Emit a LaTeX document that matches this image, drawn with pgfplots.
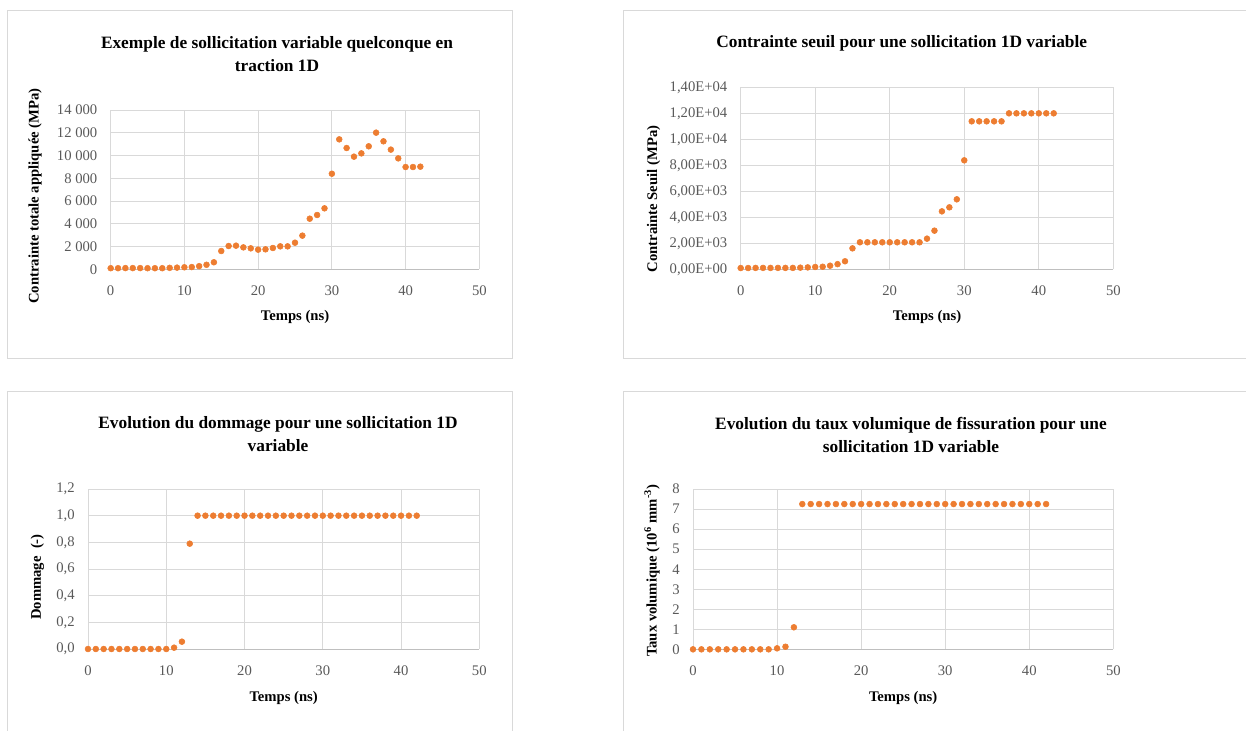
\documentclass[border=0pt]{standalone}
\usepackage{fontspec}
\setmainfont{Liberation Serif}
\usepackage{pgfplots}
\pgfplotsset{compat=1.18}
\definecolor{orng}{HTML}{ED7D31}
\definecolor{grd}{HTML}{D9D9D9}
\definecolor{axl}{HTML}{BFBFBF}
\definecolor{tck}{HTML}{595959}
\pgfplotsset{excel/.style={
  scale only axis, anchor=south west,
  xmin=0, xmax=50, xtick={0,10,...,50},
  grid=major, grid style={draw=grd, line width=0.75pt},
  axis x line*=bottom, axis y line*=left,
  x axis line style={draw=axl, line width=0.75pt, -},
  y axis line style={draw=none},
  tick style={draw=none},
  scaled ticks=false,
  ticklabel style={font=\fontsize{11}{12}\selectfont, text=tck},
  xticklabel style={yshift=-9pt},
  yticklabel style={xshift=-6.5pt},
  label style={font=\bfseries\fontsize{11}{13}\selectfont},
  /pgf/number format/assume math mode=true,
}, dots/.style={only marks, mark=*, mark size=2.2pt, draw=orng, fill=orng, mark options={draw=orng, fill=orng}}}
\begin{document}
\begin{tikzpicture}
\useasboundingbox (0,0) rectangle (934.5pt,-548.25pt);
% panel frames
\draw[grd, line width=0.75pt] (5.25pt,-8.25pt) rectangle (384pt,-268.5pt);
\draw[grd, line width=0.75pt] (467.25pt,-8.25pt) rectangle (940pt,-268.5pt);
\draw[grd, line width=0.75pt] (5.25pt,-293.25pt) rectangle (384pt,-560pt);
\draw[grd, line width=0.75pt] (467.25pt,-293.25pt) rectangle (940pt,-560pt);
% titles
\node[font=\bfseries\fontsize{13}{17.25}\selectfont, align=center] at (207.75pt,-40.9pt) {Exemple de sollicitation variable quelconque en\\traction 1D};
\node[font=\bfseries\fontsize{13}{17.25}\selectfont, align=center] at (676.3pt,-32.25pt) {Contrainte seuil pour une sollicitation 1D variable};
\node[font=\bfseries\fontsize{13}{17.25}\selectfont, align=center] at (208.5pt,-325.9pt) {Evolution du dommage pour une sollicitation 1D\\variable};
\node[font=\bfseries\fontsize{13}{17.25}\selectfont, align=center] at (683.25pt,-325.9pt) {Evolution du taux volumique de fissuration pour une\\sollicitation 1D variable};

% Chart 1
\begin{axis}[excel, at={(83pt,-202pt)}, width=276.5pt, height=119.5pt,
  ymin=0, ymax=14000, ytick={0,2000,...,14000},
  yticklabel style={/pgf/number format/fixed, /pgf/number format/1000 sep={\ }},
  xlabel={Temps (ns)}, ylabel={Contrainte totale appliquée (MPa)},
  xlabel style={at={(axis description cs:0.5,0)}, anchor=center, yshift=-35.8pt},
  ylabel style={at={(axis description cs:-0.205,0.46)}, anchor=center}]
\addplot[dots] coordinates {(0,100)(1,100)(2,110)(3,110)(4,110)(5,100)(6,100)(7,100)(8,130)(9,150)(10,180)(11,200)(12,280)(13,400)(14,620)(15,1610)(16,2050)(17,2080)(18,1930)(19,1845)(20,1730)(21,1760)(22,1875)(23,2020)(24,2020)(25,2340)(26,2960)(27,4450)(28,4775)(29,5360)(30,8400)(31,11420)(32,10660)(33,9900)(34,10190)(35,10810)(36,12010)(37,11250)(38,10520)(39,9750)(40,8990)(41,8990)(42,9020)};
\end{axis}

% Chart 2
\begin{axis}[excel, at={(555.5pt,-202pt)}, width=279.5pt, height=136.5pt,
  ymin=0, ymax=14000, ytick={0,2000,...,14000},
  yticklabels={{0,00E+00},{2,00E+03},{4,00E+03},{6,00E+03},{8,00E+03},{1,00E+04},{1,20E+04},{1,40E+04}},
  xlabel={Temps (ns)}, ylabel={Contrainte Seuil (MPa)},
  xlabel style={at={(axis description cs:0.5,0)}, anchor=center, yshift=-35.8pt},
  ylabel style={at={(axis description cs:-0.234,0.386)}, anchor=center}]
\addplot[dots] coordinates {(0,100)(1,100)(2,110)(3,110)(4,110)(5,110)(6,110)(7,110)(8,130)(9,150)(10,180)(11,200)(12,280)(13,400)(14,620)(15,1615)(16,2080)(17,2080)(18,2080)(19,2080)(20,2080)(21,2080)(22,2080)(23,2080)(24,2080)(25,2360)(26,2975)(27,4460)(28,4770)(29,5385)(30,8385)(31,11385)(32,11385)(33,11385)(34,11385)(35,11385)(36,12000)(37,12000)(38,12000)(39,12000)(40,12000)(41,12000)(42,12000)};
\end{axis}

% Chart 3
\begin{axis}[excel, at={(66pt,-486.75pt)}, width=293.5pt, height=120pt,
  ymin=0, ymax=1.2, ytick={0,0.2,...,1.21},
  yticklabel style={/pgf/number format/fixed, /pgf/number format/fixed zerofill, /pgf/number format/precision=1, /pgf/number format/use comma},
  xlabel={Temps (ns)}, ylabel={Dommage~~(-)},
  xlabel style={at={(axis description cs:0.5,0)}, anchor=center, yshift=-36.5pt},
  ylabel style={at={(axis description cs:-0.129,0.45)}, anchor=center}]
\addplot[dots] coordinates {(0,0)(1,0)(2,0)(3,0)(4,0)(5,0)(6,0)(7,0)(8,0)(9,0)(10,0)(11,0.01)(12,0.055)(13,0.79)(14,1)(15,1)(16,1)(17,1)(18,1)(19,1)(20,1)(21,1)(22,1)(23,1)(24,1)(25,1)(26,1)(27,1)(28,1)(29,1)(30,1)(31,1)(32,1)(33,1)(34,1)(35,1)(36,1)(37,1)(38,1)(39,1)(40,1)(41,1)(42,1)};
\end{axis}

% Chart 4
\begin{axis}[excel, at={(519.75pt,-487pt)}, width=315.25pt, height=120.25pt,
  ymin=0, ymax=8, ytick={0,1,...,8},
  xlabel={Temps (ns)}, ylabel={Taux volumique (10\textsuperscript{6} mm\textsuperscript{-3})},
  xlabel style={at={(axis description cs:0.5,0)}, anchor=center, yshift=-36.5pt},
  ylabel style={at={(axis description cs:-0.0975,0.49)}, anchor=center}]
\addplot[dots] coordinates {(0,0)(1,0)(2,0)(3,0)(4,0)(5,0)(6,0)(7,0)(8,0)(9,0)(10,0.05)(11,0.13)(12,1.1)(13,7.25)(14,7.25)(15,7.25)(16,7.25)(17,7.25)(18,7.25)(19,7.25)(20,7.25)(21,7.25)(22,7.25)(23,7.25)(24,7.25)(25,7.25)(26,7.25)(27,7.25)(28,7.25)(29,7.25)(30,7.25)(31,7.25)(32,7.25)(33,7.25)(34,7.25)(35,7.25)(36,7.25)(37,7.25)(38,7.25)(39,7.25)(40,7.25)(41,7.25)(42,7.25)};
\end{axis}
\end{tikzpicture}
\end{document}
